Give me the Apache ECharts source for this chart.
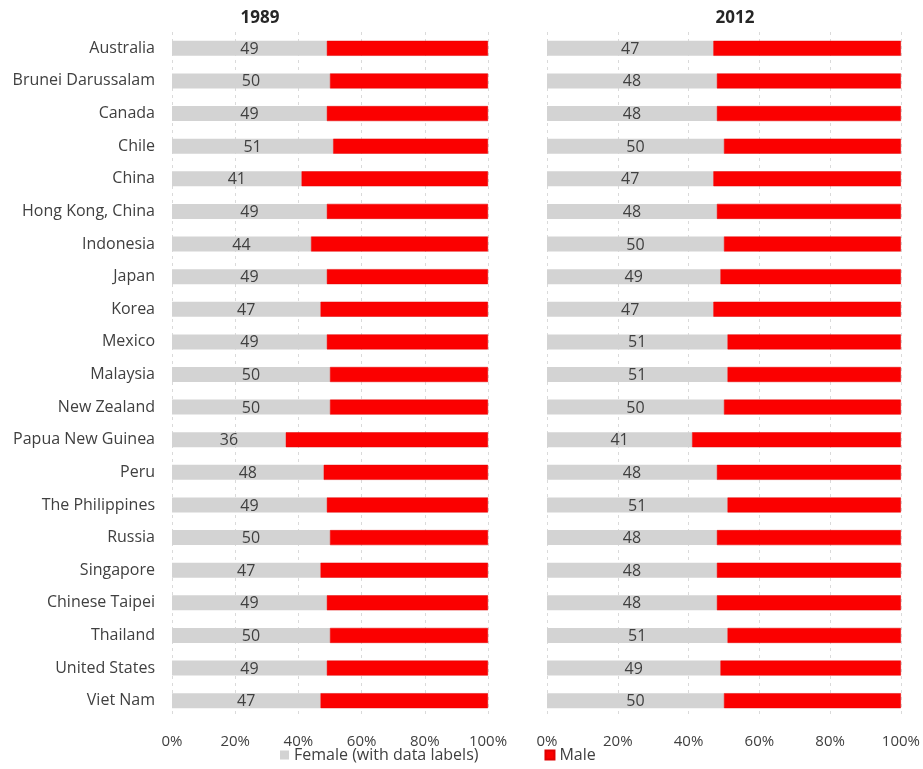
<!doctype html>
<html lang="en">
<head>
<meta charset="UTF-8">
<title>Female / Male share 1989 vs 2012</title>
<style>
  html, body { margin: 0; padding: 0; background: #fff; }
  #main { width: 923px; height: 769px; }
</style>
</head>
<body>
<div id="main"></div>
<script src="https://cdn.jsdelivr.net/npm/echarts@6/dist/echarts.min.js"></script>
<script type="text/javascript">
// 数据
var economies = ['Australia', 'Brunei Darussalam', 'Canada', 'Chile', 'China', 'Hong Kong, China',
    'Indonesia', 'Japan', 'Korea', 'Mexico', 'Malaysia', 'New Zealand', 'Papua New Guinea', 'Peru',
    'The Philippines', 'Russia', 'Singapore', 'Chinese Taipei', 'Thailand', 'United States', 'Viet Nam'];
var female1989 = [49, 50, 49, 51, 41, 49, 44, 49, 47, 49, 50, 50, 36, 48, 49, 50, 47, 49, 50, 49, 47];
var female2012 = [47, 48, 48, 50, 47, 48, 50, 49, 47, 51, 51, 50, 41, 48, 51, 48, 48, 48, 51, 49, 50];
var male1989 = female1989.map(function (v) { return 100 - v; });
var male2012 = female2012.map(function (v) { return 100 - v; });
var xTicks = [0, 20, 40, 60, 80, 100];

var FEMALE = 'Female (with data labels)';
var MALE = 'Male';
var txt = '#404040';
var font = 'Open Sans';

var myChart = echarts.init(document.getElementById('main'));

function xAxis(idx) {
    return {
        gridIndex: idx, type: 'value', min: xTicks[0], max: xTicks[xTicks.length - 1], interval: 20,
        axisLine: { show: false }, axisTick: { show: false },
        axisLabel: { color: txt, fontSize: 15, fontFamily: font, margin: 17,
            formatter: function (v) { return v + '%'; } },
        splitLine: { show: true, lineStyle: { color: '#dadada', type: [3, 4], width: 1 } }
    };
}
function yAxis(idx, showLabel) {
    return {
        gridIndex: idx, type: 'category', data: economies, inverse: true,
        axisLine: { show: false }, axisTick: { show: false },
        axisLabel: { show: showLabel, color: txt, fontSize: 16, fontFamily: font, margin: 17 }
    };
}
function femaleSeries(idx, data) {
    return {
        name: FEMALE, type: 'bar', stack: 's' + idx, xAxisIndex: idx, yAxisIndex: idx,
        data: data, barWidth: 15, itemStyle: { color: '#d3d3d3' },
        label: { show: true, position: 'inside', color: txt, fontSize: 16, fontFamily: font, offset: [0, 1] }
    };
}
function maleSeries(idx, data) {
    return {
        name: MALE, type: 'bar', stack: 's' + idx, xAxisIndex: idx, yAxisIndex: idx,
        data: data, barWidth: 15, itemStyle: { color: '#fb0000', borderColor: '#e00000', borderWidth: 0.5 }
    };
}

var option = {
    animation: false,
    title: [
        { text: '1989', left: 255, top: 5, textAlign: 'center',
          textStyle: { fontSize: 17, fontWeight: 'bold', color: '#262626', fontFamily: font } },
        { text: '2012', left: 730, top: 5, textAlign: 'center',
          textStyle: { fontSize: 17, fontWeight: 'bold', color: '#262626', fontFamily: font } }
    ],
    legend: {
        data: [FEMALE, MALE], bottom: 1, left: 275, itemGap: 66,
        itemWidth: 9, itemHeight: 9, icon: 'rect',
        textStyle: { color: txt, fontSize: 16, fontFamily: font }
    },
    grid: [
        { left: 172, right: 435, top: 32, height: 685 },
        { left: 547, right: 20, top: 32, height: 685 }
    ],
    xAxis: [xAxis(0), xAxis(1)],
    yAxis: [yAxis(0, true), yAxis(1, false)],
    series: [
        femaleSeries(0, female1989), maleSeries(0, male1989),
        femaleSeries(1, female2012), maleSeries(1, male2012)
    ]
};
myChart.setOption(option);
</script>
</body>
</html>
